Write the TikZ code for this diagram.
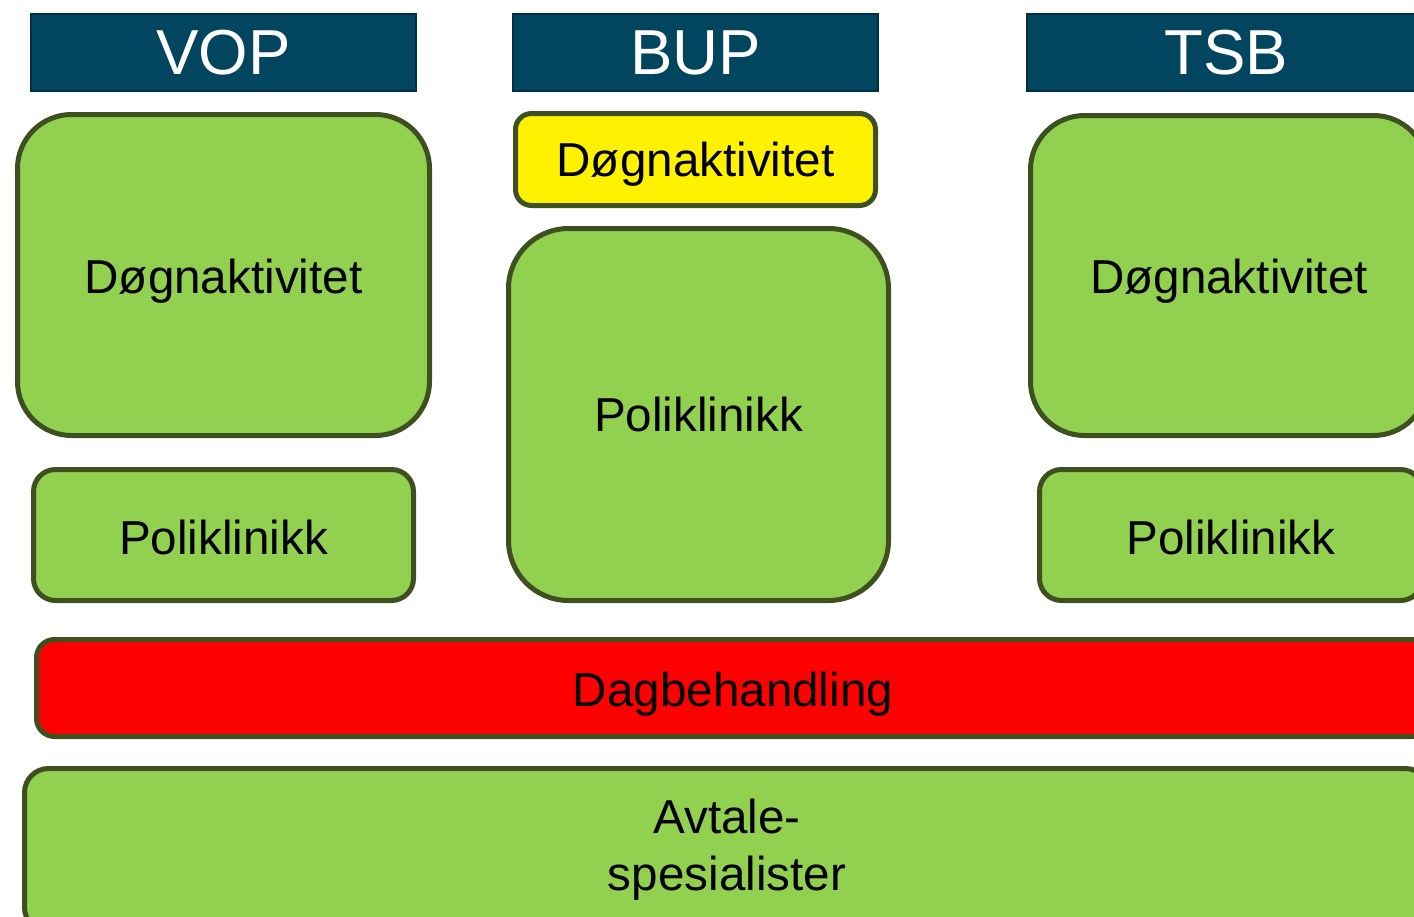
\documentclass[tikz,border=0pt]{standalone}
\usepackage{fontspec}
\setmainfont{Liberation Sans}
\definecolor{hdrfill}{RGB}{1,69,94}
\definecolor{hdrline}{RGB}{0,48,70}
\definecolor{grn}{RGB}{146,208,80}
\definecolor{olive}{RGB}{63,80,32}
\newcommand{\lowerby}[2]{\raisebox{-#1}[\height][\depth]{#2}}
\begin{document}
\begin{tikzpicture}[x=0.5pt,y=-0.5pt,
  hdr/.style={draw=hdrline,fill=hdrfill,line width=1.4pt,inner sep=0pt,outer sep=0pt,
    text=white,font=\fontsize{31.8}{36}\selectfont},
  boxst/.style={draw=olive,line width=2.5pt,inner sep=0pt,outer sep=0pt,
    font=\fontsize{23.8}{28.5}\selectfont,align=center}]
\useasboundingbox (0,0) rectangle (1414,916);
\clip (0,0) rectangle (1414,916);
% headers
\node[hdr,minimum width=192.5pt,minimum height=38.5pt] (vop) at (223.5,52.5) {VOP};
\node[hdr,minimum width=182.5pt,minimum height=38.5pt] (bup) at (695.5,52.5) {BUP};
\node[hdr,minimum width=199pt,minimum height=38.5pt] (tsb) at (1226,52.5) {TSB};
% VOP
\node[boxst,fill=grn,rounded corners=27pt,minimum width=206pt,minimum height=160.5pt] (vopd) at (223.5,275) {\lowerby{3pt}{Døgnaktivitet}};
\node[boxst,fill=grn,rounded corners=11pt,minimum width=190pt,minimum height=65.5pt] (vopp) at (223.5,535) {\lowerby{1pt}{Poliklinikk}};
% BUP
\node[boxst,fill=yellow,rounded corners=8pt,minimum width=180pt,minimum height=46pt] (bupd) at (695.5,159.5) {\lowerby{2.5pt}{Døgnaktivitet}};
\node[boxst,fill=grn,rounded corners=30pt,minimum width=190pt,minimum height=186pt] (bupp) at (698.5,414.5) {Poliklinikk};
% TSB
\node[boxst,fill=grn,rounded corners=27pt,minimum width=198.5pt,minimum height=160pt] (tsbd) at (1229,275.5) {\lowerby{3pt}{Døgnaktivitet}};
\node[boxst,fill=grn,rounded corners=11pt,minimum width=191.5pt,minimum height=65.5pt] (tsbp) at (1231,535) {\lowerby{1pt}{Poliklinikk}};
% bottom bands
\node[boxst,fill=red,rounded corners=9pt,minimum width=696.5pt,minimum height=48.5pt] (dag) at (733,688) {\lowerby{3pt}{Dagbehandling}};
\node[boxst,fill=grn,rounded corners=12pt,minimum width=702.5pt,minimum height=81.5pt] (avt) at (727,850) {Avtale-\\spesialister};
\end{tikzpicture}
\end{document}
